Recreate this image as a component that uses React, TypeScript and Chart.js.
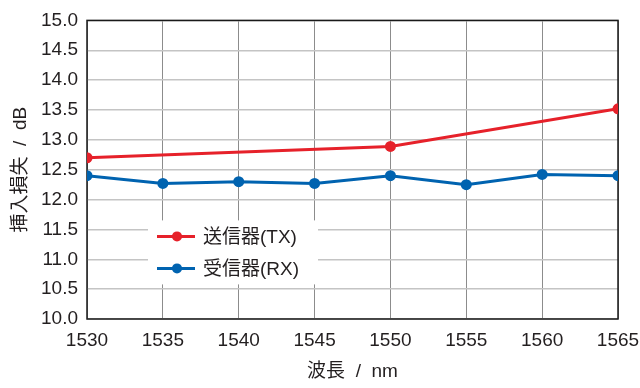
import React, { useEffect, useRef } from "react";
import { Chart, registerables } from "chart.js";

Chart.register(...registerables);

const wavelengths = [1530, 1535, 1540, 1545, 1550, 1555, 1560, 1565];
const txWavelengths = [1530, 1550, 1565];
const txLoss = [12.7, 12.89, 13.52];
const rxLoss = [12.4, 12.27, 12.3, 12.27, 12.4, 12.25, 12.42, 12.4];
const seriesLabels = ["送信器(TX)", "受信器(RX)"];
const seriesColors = ["#e6212a", "#0063b0"];
const xTitle = "波長  /  nm";
const yTitle = "挿入損失  /  dB";

const LATIN = "'Liberation Sans', Arial, sans-serif";
const MIXED = "'Liberation Sans', 'Noto Sans CJK JP', sans-serif";
const TEXT = "#231f20";

const framePlugin = {
  id: "frame",
  beforeDatasetsDraw(chart: any) {
    const { ctx, chartArea: a } = chart;
    ctx.save();
    ctx.strokeStyle = "#1a1a1a";
    ctx.lineWidth = 1.5;
    ctx.strokeRect(a.left, a.top, a.right - a.left, a.bottom - a.top);
    ctx.restore();
  },
};

const legendPlugin = {
  id: "insideLegend",
  afterDatasetsDraw(chart: any) {
    const { ctx, chartArea: a } = chart;
    const x0 = a.left + 61;
    const y0 = a.top + 200;
    ctx.save();
    ctx.fillStyle = "#ffffff";
    ctx.fillRect(x0, y0, 170, 64);
    chart.data.datasets.forEach((ds: any, i: number) => {
      const cy = y0 + 16 + i * 32;
      ctx.strokeStyle = ds.borderColor;
      ctx.lineWidth = 3;
      ctx.beginPath();
      ctx.moveTo(x0 + 9, cy);
      ctx.lineTo(x0 + 47, cy);
      ctx.stroke();
      ctx.fillStyle = ds.backgroundColor;
      ctx.beginPath();
      ctx.arc(x0 + 29, cy, 5, 0, Math.PI * 2);
      ctx.fill();
      ctx.fillStyle = TEXT;
      ctx.font = `19px ${MIXED}`;
      ctx.textBaseline = "middle";
      ctx.textAlign = "left";
      ctx.fillText(ds.label, x0 + 55, cy + 1);
    });
    ctx.restore();
  },
};

export default function App() {
  const ref = useRef<HTMLCanvasElement | null>(null);
  useEffect(() => {
    document.body.style.margin = "0";
    const canvas = ref.current!;
    const chart = new Chart(canvas, {
      type: "line",
      data: {
        datasets: [
          {
            label: seriesLabels[0],
            data: txWavelengths.map((x, i) => ({ x, y: txLoss[i] })),
            borderColor: seriesColors[0],
            backgroundColor: seriesColors[0],
            borderWidth: 3,
            pointRadius: 5.5,
            pointHoverRadius: 5.5,
            pointBorderWidth: 0,
            tension: 0,
          },
          {
            label: seriesLabels[1],
            data: wavelengths.map((x, i) => ({ x, y: rxLoss[i] })),
            borderColor: seriesColors[1],
            backgroundColor: seriesColors[1],
            borderWidth: 3,
            pointRadius: 5.5,
            pointHoverRadius: 5.5,
            pointBorderWidth: 0,
            tension: 0,
          },
        ],
      },
      options: {
        responsive: false,
        animation: false,
        layout: { padding: { top: 17, right: 0, left: 0, bottom: 0 } },
        plugins: { legend: { display: false }, tooltip: { enabled: false } },
        scales: {
          x: {
            type: "linear",
            min: 1530,
            max: 1565,
            afterFit: (s: any) => {
              s.height = 69;
              s.paddingLeft = 0;
              s.paddingRight = 22;
            },
            ticks: {
              stepSize: 5,
              autoSkip: false,
              maxRotation: 0,
              padding: 10,
              color: TEXT,
              font: { family: LATIN, size: 19 },
              callback: (v: any) => String(v),
            },
            grid: { color: "#8c8c8c", lineWidth: 1, drawTicks: false },
            border: { display: false },
            title: {
              display: true,
              text: xTitle,
              color: TEXT,
              font: { family: MIXED, size: 19 },
              padding: { top: 0, bottom: 5 },
            },
          },
          y: {
            type: "linear",
            min: 10,
            max: 15,
            afterFit: (s: any) => {
              s.width = 87;
            },
            ticks: {
              stepSize: 0.5,
              padding: 9,
              color: TEXT,
              font: { family: LATIN, size: 19 },
              callback: (v: any) => Number(v).toFixed(1),
            },
            grid: { color: "#c4c4c4", lineWidth: 1.5, drawTicks: false },
            border: { display: false },
            title: {
              display: true,
              text: yTitle,
              color: TEXT,
              font: { family: MIXED, size: 19 },
              padding: { top: 9, bottom: 0 },
            },
          },
        },
      },
      plugins: [framePlugin, legendPlugin],
    });
    return () => chart.destroy();
  }, []);
  return (
    <div style={{ width: 640, height: 388 }}>
      <canvas ref={ref} width={640} height={388} style={{ display: "block" }} />
    </div>
  );
}
